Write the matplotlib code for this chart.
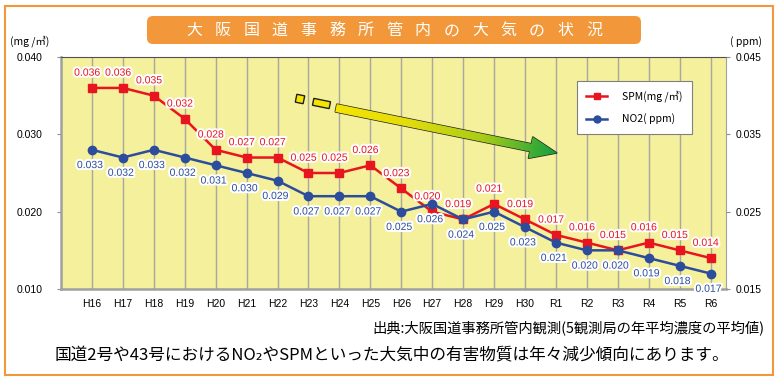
import matplotlib
matplotlib.use('Agg')
import matplotlib.pyplot as plt
import matplotlib.patheffects as pe
from matplotlib.patches import Polygon, FancyBboxPatch, Rectangle
from matplotlib.colors import LinearSegmentedColormap
from matplotlib.lines import Line2D
import numpy as np

# data
years = ['H16', 'H17', 'H18', 'H19', 'H20', 'H21', 'H22', 'H23', 'H24', 'H25', 'H26',
         'H27', 'H28', 'H29', 'H30', 'R1', 'R2', 'R3', 'R4', 'R5', 'R6']
spm = [0.036, 0.036, 0.035, 0.032, 0.028, 0.027, 0.027, 0.025, 0.025, 0.026, 0.023,
       0.020, 0.019, 0.021, 0.019, 0.017, 0.016, 0.015, 0.016, 0.015, 0.014]
no2 = [0.033, 0.032, 0.033, 0.032, 0.031, 0.030, 0.029, 0.027, 0.027, 0.027, 0.025,
       0.026, 0.024, 0.025, 0.023, 0.021, 0.020, 0.020, 0.019, 0.018, 0.017]
left_ticks = [0.010, 0.020, 0.030, 0.040]
right_ticks = [0.015, 0.025, 0.035, 0.045]

title = '大阪国道事務所管内の大気の状況'
source = '出典:大阪国道事務所管内観測(5観測局の年平均濃度の平均値)'
message = '国道2号や43号におけるNO₂やSPMといった大気中の有害物質は年々減少傾向にあります。'
spm_label = 'SPM(mg /㎥)'
no2_label = 'NO2( ppm)'

RED = '#E8141E'
BLUE = '#2C4C9C'
ORANGE = '#F2983A'
BG = '#F4F09C'
JP = ['Noto Sans CJK JP', 'DejaVu Sans']
NUM = ['Liberation Sans', 'DejaVu Sans']
LBL = ['Liberation Sans Narrow', 'Liberation Sans', 'DejaVu Sans']

W, H = 780, 379
fig = plt.figure(figsize=(W / 100, H / 100), dpi=100)
fig.patch.set_facecolor('white')

# main plot area (pixel box 61..726 x 57..289)
ax = fig.add_axes([61 / W, 1 - 289 / H, (726 - 61) / W, (289 - 57) / H])
ax.set_facecolor(BG)
x = np.arange(len(years))
ax.set_xlim(-1, len(years) - 0.5)
ax.set_ylim(0.010, 0.040)
ax.set_xticks(x)
ax.set_xticklabels(years, family=NUM, fontsize=7.5)
ax.set_yticks(left_ticks)
ax.set_yticklabels(['%.3f' % v for v in left_ticks], family=NUM, fontsize=7.5)
ax.tick_params(axis='x', length=0, pad=7)
ax.tick_params(axis='y', length=3, color='#909090', pad=10)
ax.grid(axis='x', color='#A8A8A0', lw=1)
ax.set_axisbelow(True)
for s in ['left', 'bottom']:
    ax.spines[s].set_color('#A0A0A0')
    ax.spines[s].set_linewidth(1.8)
ax.spines['top'].set_color('#505050')
ax.spines['right'].set_color('#A0A0A0')

ax.plot(x, spm, color=RED, marker='s', ms=6, lw=1.8, zorder=3)
glow = [pe.withStroke(linewidth=3, foreground='white')]
for xi, v in zip(x, spm):
    ax.annotate('%.3f' % v, (xi, v), xytext=(-3.5, 11), textcoords='offset points',
                ha='center', va='center', color=RED, fontsize=7.5, family=LBL,
                path_effects=glow, zorder=4)

ax2 = ax.twinx()
ax2.set_ylim(0.015, 0.045)
ax2.set_yticks(right_ticks)
ax2.set_yticklabels(['%.3f' % v for v in right_ticks], family=NUM, fontsize=7.5)
ax2.tick_params(axis='y', length=3, color='#909090', pad=4)
for s in ax2.spines.values():
    s.set_visible(False)
ax2.plot(x, no2, color=BLUE, marker='o', ms=6, lw=1.8, zorder=3)
for xi, v in zip(x, no2):
    ax2.annotate('%.3f' % v, (xi, v), xytext=(-1.5, -11), textcoords='offset points',
                 ha='center', va='center', color=BLUE, fontsize=7.5, family=LBL,
                 path_effects=glow, zorder=4)

handles = [Line2D([], [], color=RED, marker='s', ms=5, lw=1.8),
           Line2D([], [], color=BLUE, marker='o', ms=5, lw=1.8)]
leg = ax2.legend(handles, [spm_label, no2_label], loc='upper left',
                 bbox_to_anchor=(0.776, 0.897), fancybox=False, framealpha=1,
                 edgecolor='#808080', prop={'family': JP, 'size': 7.5},
                 handlelength=2.0, handletextpad=1.4, labelspacing=1.1,
                 borderpad=0.9, borderaxespad=0)
leg.get_frame().set_linewidth(0.8)

# overlay in pixel coordinates for decorations and texts
ov = fig.add_axes([0, 0, 1, 1], zorder=10)
ov.patch.set_alpha(0)
ov.axis('off')

ov.add_patch(Rectangle((5, 6), 768, 369, fill=False, ec=ORANGE, lw=1.5))
ov.add_patch(FancyBboxPatch((147, 16), 494, 28,
                            boxstyle='round,pad=0,rounding_size=6',
                            fc=ORANGE, ec='none'))
for i, ch in enumerate(title):
    ov.text(194.2 + i * 28.57, 30.5, ch, color='white', fontsize=11.5,
            ha='center', va='center', family=JP)

ov.text(30, 41, '(mg /㎥)', fontsize=7.5, ha='center', va='center', family=JP)
ov.text(746, 42, '( ppm)', fontsize=7.5, ha='center', va='center', family=JP)

ov.text(765, 328, source, fontsize=10.3, ha='right', va='center', family=JP)
ov.text(392, 356, message, fontsize=12, ha='center', va='center', family=JP)


# trend arrow
def rot_rect(cx, cy, w, h, ang):
    c, s = np.cos(ang), np.sin(ang)
    pts = np.array([[-w / 2, -h / 2], [w / 2, -h / 2], [w / 2, h / 2], [-w / 2, h / 2]])
    return pts @ np.array([[c, s], [-s, c]]) + [cx, cy]


S = np.array([336.0, 108.0])
T = np.array([557.0, 153.0])
L = np.hypot(*(T - S))
u = (T - S) / L
n = np.array([-u[1], u[0]])
B = T - 27 * u
arrow_pts = [S + 4 * n, B + 4 * n, B + 11 * n, T, B - 11 * n, B - 4 * n, S - 4 * n]
arrow = Polygon(arrow_pts, closed=True, fc='none', ec='#202020', lw=1)
ov.add_patch(arrow)
gx = np.linspace(325, 565, 240)
gy = np.linspace(90, 170, 80)
GX, GY = np.meshgrid(gx, gy)
t = np.clip(((GX - S[0]) * u[0] + (GY - S[1]) * u[1]) / L, 0, 1)
cmap = LinearSegmentedColormap.from_list('yg', ['#F5E400', '#E2DC0C', '#A8CC18', '#12A040'])
img = ov.imshow(t, extent=(325, 565, 170, 90), origin='upper', cmap=cmap,
                aspect='auto', interpolation='bilinear', zorder=1)
img.set_clip_path(Polygon(arrow_pts, closed=True, transform=ov.transData))
ang = np.arctan2(u[1], u[0])
ov.add_patch(Polygon(rot_rect(300, 99, 8, 8, ang), closed=True, fc='#F5E400', ec='#202020', lw=1))
ov.add_patch(Polygon(rot_rect(321.5, 103.5, 17, 7, ang), closed=True, fc='#F5E400', ec='#202020', lw=1))

ov.set_xlim(0, W)
ov.set_ylim(H, 0)

fig.savefig('out.png', dpi=100)
